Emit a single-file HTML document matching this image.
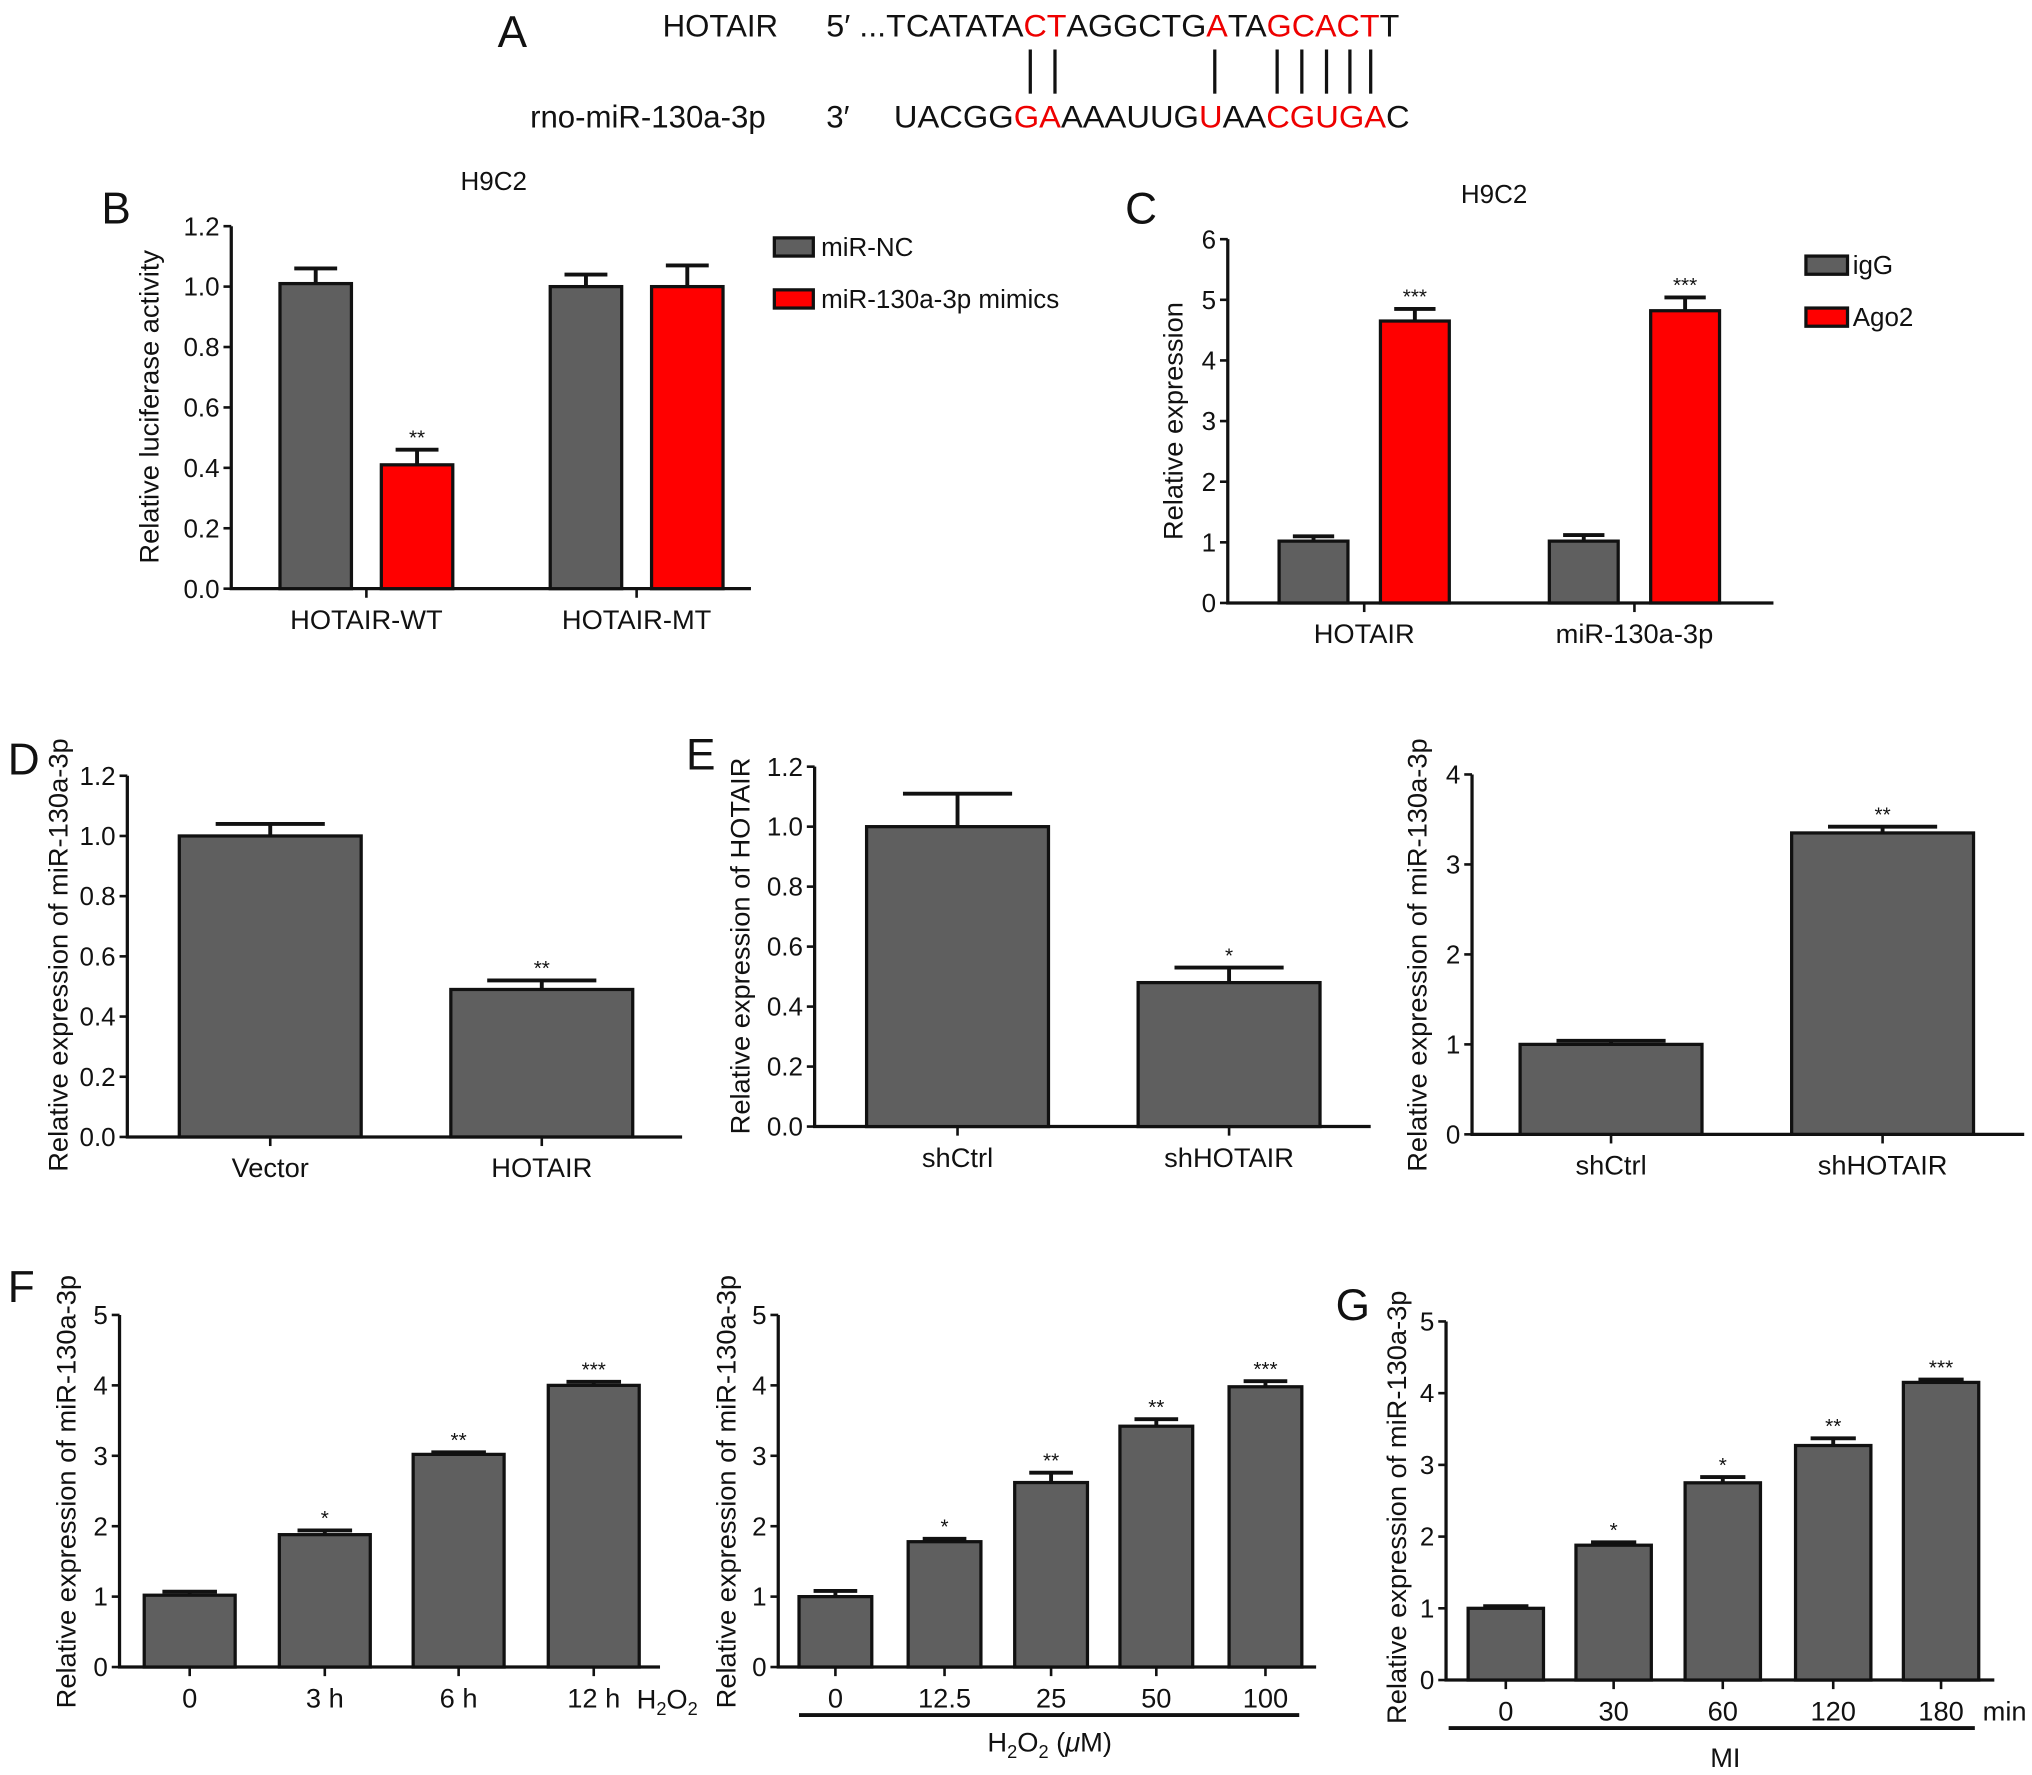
<!DOCTYPE html>
<html><head><meta charset="utf-8"><style>
html,body{margin:0;padding:0;background:#fff}
svg{display:block}
text{font-family:"Liberation Sans",sans-serif;fill:#111}
</style></head><body>
<svg id="fig" width="2032" height="1775" viewBox="0 0 1564 1366" xmlns="http://www.w3.org/2000/svg">
<g font-size="24">
<text x="383" y="36" font-size="34">A</text>
<text x="510" y="28">HOTAIR</text>
<text x="636" y="28" textLength="441" lengthAdjust="spacingAndGlyphs">5′ ...TCATATA<tspan fill="#e00">CT</tspan>AGGCTG<tspan fill="#e00">A</tspan>TA<tspan fill="#e00">GCACT</tspan>T</text>
<text x="408" y="98">rno-miR-130a-3p</text>
<text x="636" y="98">3′</text>
<text x="688" y="98" textLength="397" lengthAdjust="spacingAndGlyphs">UACGG<tspan fill="#e00">GA</tspan>AAAUUG<tspan fill="#e00">U</tspan>AA<tspan fill="#e00">CGUGA</tspan>C</text>
<g stroke="#111" stroke-width="2.5">
<line x1="793" y1="38" x2="793" y2="72"/><line x1="812" y1="38" x2="812" y2="72"/><line x1="935" y1="38" x2="935" y2="72"/><line x1="983" y1="38" x2="983" y2="72"/><line x1="1002" y1="38" x2="1002" y2="72"/><line x1="1021" y1="38" x2="1021" y2="72"/><line x1="1039" y1="38" x2="1039" y2="72"/><line x1="1055" y1="38" x2="1055" y2="72"/>
</g>
</g>
</svg>
<script>
// ---- data ----
const bCats=["HOTAIR-WT","HOTAIR-MT"];
const bNC=[1.01,1.0];const bNCerr=[0.05,0.04];
const bMim=[0.41,1.0];const bMimErr=[0.05,0.07];
const bSig=["**",""];
const bTicks=["0.0","0.2","0.4","0.6","0.8","1.0","1.2"];
const cCats=["HOTAIR","miR-130a-3p"];
const cIgG=[1.02,1.02];const cIgGerr=[0.08,0.1];
const cAgo=[4.65,4.82];const cAgoErr=[0.2,0.22];
const cSig=["***","***"];
const cTicks=["0","1","2","3","4","5","6"];
const dCats=["Vector","HOTAIR"];const dVals=[1.0,0.49];const dErr=[0.04,0.03];const dSig=["","**"];
const e1Cats=["shCtrl","shHOTAIR"];const e1Vals=[1.0,0.48];const e1Err=[0.11,0.05];const e1Sig=["","*"];
const e2Cats=["shCtrl","shHOTAIR"];const e2Vals=[1.0,3.35];const e2Err=[0.04,0.07];const e2Sig=["","**"];
const e2Ticks=["0","1","2","3","4"];
const f1Cats=["0","3 h","6 h","12 h"];const f1Vals=[1.02,1.88,3.02,4.0];const f1Err=[0.05,0.06,0.03,0.05];const f1Sig=["","*","**","***"];
const f2Cats=["0","12.5","25","50","100"];const f2Vals=[1.0,1.78,2.62,3.42,3.98];const f2Err=[0.08,0.04,0.14,0.1,0.08];const f2Sig=["","*","**","**","***"];
const gCats=["0","30","60","120","180"];const gVals=[1.0,1.88,2.75,3.27,4.15];const gErr=[0.03,0.04,0.08,0.1,0.04];const gSig=["","*","*","**","***"];
const fiveTicks=["0","1","2","3","4","5"];

const NS="http://www.w3.org/2000/svg";
const svg=document.getElementById('fig');
function el(tag,attrs,parent,txt){const e=document.createElementNS(NS,tag);for(const k in attrs)e.setAttribute(k,attrs[k]);if(txt!==undefined)e.textContent=txt;(parent||svg).appendChild(e);return e;}
const GRAY="#5f5f5f",RED="#ff0000";

function chart(o){
  const g=el('g',{});
  
  
  const max=parseFloat(o.ticks[o.ticks.length-1]);
  const y=v=>o.y0-(v/max)*(o.y0-o.yTop);
  const ax=el('path',{d:`M${o.x0} ${o.yTop}V${o.y0}H${o.xEnd}`,stroke:'#111','stroke-width':2.5,fill:'none'},g);
  
  
  o.ticks.forEach(t=>{const yy=y(parseFloat(t));
    el('line',{x1:o.x0-6,y1:yy,x2:o.x0,y2:yy,stroke:'#111','stroke-width':2},g);
    const tl=el('text',{x:o.x0-9,y:yy+7,'text-anchor':'end','font-size':20},g,t);
    
    
  });
  o.series.forEach((s,si)=>{
    s.vals.forEach((v,i)=>{
      const cx=o.centers[i]+(s.off||0);const w=o.bw;
      const top=y(v);
      const et=y(v+s.err[i]);
      el('path',{d:`M${cx} ${top}V${et}M${cx-w*0.3} ${et}H${cx+w*0.3}`,stroke:'#111','stroke-width':3},g);
      const r=el('rect',{x:cx-w/2,y:top,width:w,height:o.y0-top,fill:s.color,stroke:'#111','stroke-width':2.5},g);
      
      
      if(s.sig&&s.sig[i]){const st=el('text',{x:cx,y:et-4,'text-anchor':'middle','font-size':16},g,s.sig[i]);
        
        }
    });
  });
  o.cats.forEach((c,i)=>{const cx=o.centers[i]+(o.tickOff||0);
    el('line',{x1:cx,y1:o.y0,x2:cx,y2:o.y0+7,stroke:'#111','stroke-width':2},g);
    const t=el('text',{x:cx,y:o.y0+31,'text-anchor':'middle','font-size':21},g,c);
    
    
  });
  const yt=el('text',{x:0,y:0,'text-anchor':'middle','font-size':21,transform:`translate(${o.titleX},${o.titleY}) rotate(-90)`},g,o.ytitle);
  
  
  return g;
}
function txt(x,y,s,size,name,anchor){const t=el('text',{x:x,y:y,'font-size':size,'text-anchor':anchor||'start'},svg,s);
  
  return t;}

// B
chart({name:'chart-b',x0:178,yTop:174,y0:453,xEnd:578,ticks:bTicks,cats:bCats,centers:[282,490],bw:55,
  series:[{key:'mir-nc',vals:bNC,err:bNCerr,color:GRAY,off:-39},{key:'mimics',vals:bMim,err:bMimErr,color:RED,off:39,sig:bSig}],
  ytitle:'Relative luciferase activity',titleX:122,titleY:313});
txt(78,172,'B',34,'panel-b-label');txt(380,146,'H9C2',20,'chart-b-title','middle');
[[GRAY,'miR-NC',190],[RED,'miR-130a-3p mimics',230]].forEach(l=>{const r=el('rect',{x:596,y:l[2]-7,width:30,height:14,fill:l[0],stroke:'#111','stroke-width':2.5});
  
  
  txt(632,l[2]+7,l[1],20,'legend-entry');});
// C
chart({name:'chart-c',x0:945,yTop:184,y0:464,xEnd:1365,ticks:cTicks,cats:cCats,centers:[1050,1258],bw:53,
  series:[{key:'igg',vals:cIgG,err:cIgGerr,color:GRAY,off:-39},{key:'ago2',vals:cAgo,err:cAgoErr,color:RED,off:39,sig:cSig}],
  ytitle:'Relative expression',titleX:910,titleY:324});
txt(866,172,'C',34,'panel-c-label');txt(1150,156,'H9C2',20,'chart-c-title','middle');
[[GRAY,'igG',204],[RED,'Ago2',244]].forEach(l=>{const r=el('rect',{x:1390,y:l[2]-7,width:32,height:14,fill:l[0],stroke:'#111','stroke-width':2.5});
  
  
  txt(1426,l[2]+7,l[1],20,'legend-entry');});
// D
chart({name:'chart-d',x0:98,yTop:597,y0:875,xEnd:525,ticks:bTicks,cats:dCats,centers:[208,417],bw:140,
  series:[{key:'d',vals:dVals,err:dErr,color:GRAY,sig:dSig}],ytitle:'Relative expression of miR-130a-3p',titleX:52,titleY:735});
txt(6,596,'D',34,'panel-d-label');
// E1
chart({name:'chart-e-hotair',x0:627,yTop:590,y0:867,xEnd:1055,ticks:bTicks,cats:e1Cats,centers:[737,946],bw:140,
  series:[{key:'e1',vals:e1Vals,err:e1Err,color:GRAY,sig:e1Sig}],ytitle:'Relative expression of HOTAIR',titleX:577,titleY:728});
txt(528,592,'E',34,'panel-e-label');
// E2
chart({name:'chart-e-mir',x0:1133,yTop:596,y0:873,xEnd:1558,ticks:e2Ticks,cats:e2Cats,centers:[1240,1449],bw:140,
  series:[{key:'e2',vals:e2Vals,err:e2Err,color:GRAY,sig:e2Sig}],ytitle:'Relative expression of miR-130a-3p',titleX:1098,titleY:735});
// F1
chart({name:'chart-f-time',x0:92,yTop:1012,y0:1283,xEnd:508,ticks:fiveTicks,cats:f1Cats,centers:[146,250,353,457],bw:70,
  series:[{key:'f1',vals:f1Vals,err:f1Err,color:GRAY,sig:f1Sig}],ytitle:'Relative expression of miR-130a-3p',titleX:58,titleY:1148});
txt(6,1002,'F',34,'panel-f-label');
const h1=txt(490,1315,'H',21,'treatment-label');el('tspan',{'font-size':14,dy:5},h1,'2');el('tspan',{dy:-5},h1,'O');el('tspan',{'font-size':14,dy:5},h1,'2');
// F2
chart({name:'chart-f-dose',x0:599,yTop:1012,y0:1283,xEnd:1013,ticks:fiveTicks,cats:f2Cats,centers:[643,727,809,890,974],bw:56,
  series:[{key:'f2',vals:f2Vals,err:f2Err,color:GRAY,sig:f2Sig}],ytitle:'Relative expression of miR-130a-3p',titleX:566,titleY:1148});
el('line',{x1:615,y1:1320,x2:1000,y2:1320,stroke:'#111','stroke-width':3});
const h2=txt(760,1348,'H',21,'dose-axis-title');el('tspan',{'font-size':14,dy:5},h2,'2');el('tspan',{dy:-5},h2,'O');el('tspan',{'font-size':14,dy:5},h2,'2');el('tspan',{dy:-5},h2,' (');el('tspan',{'font-style':'italic'},h2,'μ');el('tspan',{},h2,'M)');
// G
chart({name:'chart-g',x0:1113,yTop:1017,y0:1293,xEnd:1535,ticks:fiveTicks,cats:gCats,centers:[1159,1242,1326,1411,1494],bw:58,
  series:[{key:'g',vals:gVals,err:gErr,color:GRAY,sig:gSig}],ytitle:'Relative expression of miR-130a-3p',titleX:1082,titleY:1160});
txt(1028,1016,'G',34,'panel-g-label');
txt(1526,1324,'min',21,'unit-label');
el('line',{x1:1115,y1:1330,x2:1520,y2:1330,stroke:'#111','stroke-width':3});
txt(1328,1360,'MI',21,'mi-axis-title','middle');
</script>
</body></html>
